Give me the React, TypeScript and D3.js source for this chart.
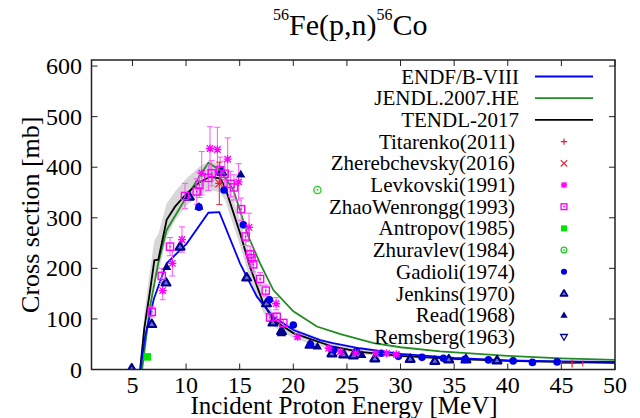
import React from "react";
import * as d3 from "d3";

// ---------- Evaluated curves ----------
const endfE = [5.75, 6.17, 7.0, 8.19, 10.06, 12.08, 13.1, 15.03, 16.6, 18.14, 20, 22.5, 23.7, 26.2, 30, 35, 40, 45, 50];
const endfV = [0, 65, 140, 210, 249, 310, 311, 210, 144, 104, 78, 58, 52, 42, 31, 23, 18, 16, 15];

const jendlE = [5.9, 6.64, 7.4, 8.19, 10.06, 12.08, 13.17, 14.41, 15.81, 16.9, 18.14, 20, 22.2, 24.4, 27.5, 30, 33.7, 40, 45, 50];
const jendlV = [0, 124, 210, 276, 342, 409, 394, 355, 263, 210, 157, 115, 85, 70, 52, 44, 36, 27, 22, 19];

const tendlE = [5.71, 6.1, 6.6, 7.04, 7.41, 8.19, 8.97, 10.06, 11.3, 12.23, 13.17, 13.63, 15.03, 15.96, 17.2, 18.14, 20, 23.7, 26.2, 30, 35, 40, 45, 50];
const tendlV = [0, 81, 150, 216, 217, 296, 322, 348, 371, 381, 378, 361, 270, 203, 131, 98, 72, 45, 35, 27, 21, 17, 15, 13];
const tendlHi = [0, 110, 190, 255, 268, 328, 352, 378, 402, 412, 405, 390, 295, 225, 150, 112, 82, 52, 40, 31, 24, 20, 17, 15];
const tendlLo = [0, 60, 120, 180, 190, 262, 295, 325, 345, 355, 350, 335, 245, 180, 112, 85, 62, 38, 30, 23, 18, 15, 12, 11];

// ---------- Experimental data ----------
const titarenkoE = [13.1, 46];
const titarenkoV = [368, 12];
const titarenkoXErr = [0, 1];

const zherebE = [13.1];
const zherebV = [368];
const zherebErr = [42];

const levE = [7.82, 8.72, 9.62, 11.46, 12.23, 12.92, 13.88, 14.9, 15.87, 18.4, 20.4, 23.3, 24.4, 25.8, 27.7, 28.7, 29.6];
const levV = [156, 210, 257, 388, 437, 435, 416, 371, 281, 130, 65, 42, 35, 33, 32, 32, 30];
const levErr = [18, 25, 25, 43, 43, 44, 42, 36, 28, 12, 6, 4, 3, 3, 3, 3, 3];

const zhaoE = [6.8, 7.73, 8.5, 9.9, 10.99, 11.24, 12.08, 12.39, 13.17, 13.6, 14.16, 14.47, 15.13, 15.56, 15.97, 16.1, 16.27, 16.9, 17.43, 17.83, 18.45, 19.07];
const zhaoV = [114, 185, 243, 343, 352, 365, 379, 388, 394, 387, 367, 360, 317, 263, 228, 220, 208, 179, 156, 103, 104, 92];
const zhaoErr = [10, 15, 18, 25, 25, 25, 25, 25, 26, 25, 25, 25, 22, 18, 16, 15, 15, 13, 11, 8, 8, 7];

const antropovE = [6.38];
const antropovV = [25];

const zhuravlevE = [22.25];
const zhuravlevV = [355];

const gadioliE = [11.2, 13.54, 15.34, 17.77, 20, 21.6, 23.8, 25.9, 28.2, 29.8, 32, 34, 36, 38.2, 40.5, 42.3, 44.6];
const gadioliV = [321, 355, 286, 138, 88, 50, 39, 36, 32, 26, 24, 22, 20, 19, 17, 14, 15];

const jenkinsE = [4.93, 6.8, 8.13, 9.44, 10.3, 13.32, 15.65, 17.5, 18.1, 18.9, 21.56, 23.6, 24.7, 25.6, 27.6, 30.9, 33.2, 34.5, 36.1, 39];
const jenkinsV = [2, 90, 172, 243, 342, 391, 182, 131, 93, 76, 49, 32, 30, 28, 22, 21, 17, 20, 20, 18];

const readE = [8.19, 11.2, 15.1, 18.9, 22.25, 26.4];
const readV = [203, 322, 386, 72, 46, 29];

const remsbergE: number[] = [];
const remsbergV: number[] = [];

// ---------- Axis / label texts ----------
const xTicks = [5, 10, 15, 20, 25, 30, 35, 40, 45, 50];
const yTicks = [0, 100, 200, 300, 400, 500, 600];
const xLabel = "Incident Proton Energy [MeV]";
const yLabel = "Cross section [mb]";
const legendLines = ["ENDF/B-VIII", "JENDL.2007.HE", "TENDL-2017"];
const legendPoints = [
  "Titarenko(2011)", "Zherebchevsky(2016)", "Levkovski(1991)", "ZhaoWenrongg(1993)",
  "Antropov(1985)", "Zhuravlev(1984)", "Gadioli(1974)", "Jenkins(1970)", "Read(1968)", "Remsberg(1963)",
];

const W = 640, H = 418;
const L = 91.5, R = 615, T = 60, B = 369.5;
const FONT = '"Liberation Serif"';

const C_BLUE = "#0000ff";
const C_GREEN = "#228b22";
const C_RED = "#e0203a";
const C_MAG = "#ff00ff";
const C_MAG_ERR = "#ff55ff";
const C_NAVY = "#00008b";
const C_GAD = "#0000e6";
const C_ANT = "#00e600";
const C_ZHU = "#22cc22";

type MK = "plus" | "cross" | "star" | "sqdot" | "fsq" | "cdot" | "fcirc" | "otri" | "ftri" | "itri";

function Marker({ kind, x, y, color, k = 1 }: { kind: MK; x: number; y: number; color: string; k?: number }) {
  const s = 4 * k;
  switch (kind) {
    case "plus":
      return <path d={`M${x - s},${y}H${x + s}M${x},${y - s}V${y + s}`} stroke={color} strokeWidth={1.2} fill="none" />;
    case "cross":
      return <path d={`M${x - s},${y - s}L${x + s},${y + s}M${x - s},${y + s}L${x + s},${y - s}`} stroke={color} strokeWidth={1.2} fill="none" />;
    case "star": {
      const d = 3.2 * k;
      return <path d={`M${x - s},${y}H${x + s}M${x},${y - s}V${y + s}M${x - d},${y - d}L${x + d},${y + d}M${x - d},${y + d}L${x + d},${y - d}`} stroke={color} strokeWidth={1.3} fill="none" />;
    }
    case "sqdot":
      return (
        <g>
          <rect x={x - 3.6 * k} y={y - 3.6 * k} width={7.2 * k} height={7.2 * k} stroke={color} strokeWidth={1.4} fill="none" />
          <rect x={x - 0.8} y={y - 0.8} width={1.6} height={1.6} fill={color} />
        </g>
      );
    case "fsq":
      return <rect x={x - 3.8 * k} y={y - 3.8 * k} width={7.6 * k} height={7.6 * k} fill={color} />;
    case "cdot":
      return (
        <g>
          <circle cx={x} cy={y} r={3.6 * k} stroke={color} strokeWidth={1.3} fill="none" />
          <circle cx={x} cy={y} r={0.9} fill={color} />
        </g>
      );
    case "fcirc":
      return <circle cx={x} cy={y} r={3.8 * k} fill={color} />;
    case "otri":
      return (
        <g>
          <path d={`M${x},${y - 4.4 * k}L${x + 4.4 * k},${y + 3 * k}L${x - 4.4 * k},${y + 3 * k}Z`} stroke={color} strokeWidth={2.2 * k} strokeLinejoin="round" fill="#6a6ad0" />
        </g>
      );
    case "ftri":
      return <path d={`M${x},${y - 4.6 * k}L${x + 4.6 * k},${y + 3.2 * k}L${x - 4.6 * k},${y + 3.2 * k}Z`} fill={color} />;
    case "itri":
      return <path d={`M${x},${y + 4.2 * k}L${x + 4.2 * k},${y - 3 * k}L${x - 4.2 * k},${y - 3 * k}Z`} stroke={color} strokeWidth={1.3} fill="none" />;
  }
  return null;
}

export default function App() {
  const x = d3.scaleLinear().domain([1.18, 50]).range([L, R]);
  const y = d3.scaleLinear().domain([0, 612]).range([B, T]);

  const line = d3
    .line<[number, number]>()
    .x((d) => x(d[0]))
    .y((d) => y(d[1]));
  const zip = (a: number[], b: number[]) => a.map((e, i) => [e, b[i]] as [number, number]);

  const area = d3
    .area<number>()
    .x((i) => x(tendlE[i]))
    .y0((i) => y(tendlLo[i]))
    .y1((i) => y(tendlHi[i]));

  const errBars = (E: number[], V: number[], err: number[] | null, color: string, xerr?: number[]) =>
    E.map((e, i) => {
      const px = x(e);
      const parts: string[] = [];
      if (err && err[i] > 0) {
        const y0 = y(V[i] - err[i]);
        const y1 = y(V[i] + err[i]);
        parts.push(`M${px},${y0}V${y1}M${px - 3},${y0}H${px + 3}M${px - 3},${y1}H${px + 3}`);
      }
      if (xerr && xerr[i] > 0) {
        const x0 = x(e - xerr[i]);
        const x1 = x(e + xerr[i]);
        const py = y(V[i]);
        parts.push(`M${x0},${py}H${x1}M${x0},${py - 3}V${py + 3}M${x1},${py - 3}V${py + 3}`);
      }
      return <path key={i} d={parts.join("") || "M0,0"} stroke={color} strokeWidth={1} fill="none" />;
    });

  const pts = (E: number[], V: number[], kind: MK, color: string) =>
    E.map((e, i) => <Marker key={i} kind={kind} x={x(e)} y={y(V[i])} color={color} />);

  const pointSeries: { kind: MK; color: string }[] = [
    { kind: "plus", color: C_RED },
    { kind: "cross", color: C_RED },
    { kind: "star", color: C_MAG },
    { kind: "sqdot", color: C_MAG },
    { kind: "fsq", color: C_ANT },
    { kind: "cdot", color: C_ZHU },
    { kind: "fcirc", color: C_GAD },
    { kind: "otri", color: C_NAVY },
    { kind: "ftri", color: C_NAVY },
    { kind: "itri", color: C_NAVY },
  ];
  const lineColors = [C_BLUE, C_GREEN, "#000000"];
  const legY0 = 76.5;
  const legDy = 21.7;
  const legTextX = 519;

  return (
    <svg width={W} height={H} style={{ position: "absolute", left: 0, top: 0, background: "#fff", fontFamily: FONT }}>
      <defs>
        <clipPath id="plotclip">
          <rect x={L} y={T} width={R - L} height={B - T} />
        </clipPath>
      </defs>

      {/* title */}
      <text x={273} y={35} fontSize={30} fill="#000" style={{ fontFamily: FONT }}>
        <tspan fontSize={16} dy={-15}>56</tspan>
        <tspan dy={15}>Fe(p,n)</tspan>
        <tspan fontSize={16} dy={-15}>56</tspan>
        <tspan dy={15}>Co</tspan>
      </text>

      {/* ticks */}
      {xTicks.map((t) => (
        <g key={"xt" + t}>
          <line x1={x(t)} x2={x(t)} y1={B} y2={B - 6} stroke="#222" strokeWidth={1} />
          <line x1={x(t)} x2={x(t)} y1={T} y2={T + 6} stroke="#222" strokeWidth={1} />
          <text x={x(t)} y={393} fontSize={24} textAnchor="middle" fill="#000" style={{ fontFamily: FONT }}>{t}</text>
        </g>
      ))}
      {yTicks.map((t) => (
        <g key={"yt" + t}>
          <line x1={L} x2={L + 6} y1={y(t)} y2={y(t)} stroke="#222" strokeWidth={1} />
          <line x1={R} x2={R - 6} y1={y(t)} y2={y(t)} stroke="#222" strokeWidth={1} />
          <text x={82} y={y(t) + 8} fontSize={24} textAnchor="end" fill="#000" style={{ fontFamily: FONT }}>{t}</text>
        </g>
      ))}

      {/* axis labels */}
      <text x={344} y={414} fontSize={25} textAnchor="middle" fill="#000" style={{ fontFamily: FONT }}>{xLabel}</text>
      <text transform={`translate(39,${(T + B) / 2}) rotate(-90)`} fontSize={26} textAnchor="middle" fill="#000" style={{ fontFamily: FONT }}>{yLabel}</text>

      <g clipPath="url(#plotclip)">
        {/* TENDL uncertainty band */}
        <path d={area(d3.range(tendlE.length)) || ""} fill="#d3d3d3" opacity={0.9} />
        {/* curves */}
        <path d={line(zip(jendlE, jendlV)) || ""} stroke={C_GREEN} strokeWidth={1.8} fill="none" />
        <path d={line(zip(tendlE, tendlV)) || ""} stroke="#000" strokeWidth={1.8} fill="none" />
        <path d={line(zip(endfE, endfV)) || ""} stroke={C_BLUE} strokeWidth={1.8} fill="none" />

        {/* error bars */}
        {errBars(levE, levV, levErr, C_MAG_ERR)}
        {errBars(zhaoE, zhaoV, zhaoErr, C_MAG_ERR)}
        {errBars(zherebE, zherebV, zherebErr, C_RED)}
        {errBars(titarenkoE, titarenkoV, null, C_RED, titarenkoXErr)}

        {/* points */}
        {pts(jenkinsE, jenkinsV, "otri", C_NAVY)}
        {pts(readE, readV, "ftri", C_NAVY)}
        {pts(remsbergE, remsbergV, "itri", C_NAVY)}
        {pts(gadioliE, gadioliV, "fcirc", C_GAD)}
        {pts(zhaoE, zhaoV, "sqdot", C_MAG)}
        {pts(levE, levV, "star", C_MAG)}
        {pts(antropovE, antropovV, "fsq", C_ANT)}
        {pts(zhuravlevE, zhuravlevV, "cdot", C_ZHU)}
        {pts(zherebE, zherebV, "cross", C_RED)}
        {pts(titarenkoE, titarenkoV, "plus", C_RED)}
      </g>

      {/* legend */}
      {legendLines.map((name, i) => (
        <g key={name}>
          <text x={legTextX} y={legY0 + i * legDy + 7} fontSize={21} textAnchor="end" fill="#000" style={{ fontFamily: FONT }}>{name}</text>
          <line x1={535} x2={593} y1={legY0 + i * legDy} y2={legY0 + i * legDy} stroke={lineColors[i]} strokeWidth={1.8} />
        </g>
      ))}
      {legendPoints.map((name, j) => {
        const i = j + legendLines.length;
        const ly = legY0 + i * legDy;
        return (
          <g key={name}>
            <text x={legTextX - 4} y={ly + 7} fontSize={21} textAnchor="end" fill="#000" style={{ fontFamily: FONT }}>{name}</text>
            <Marker kind={pointSeries[j].kind} x={564} y={ly} color={pointSeries[j].color} k={0.8} />
          </g>
        );
      })}

      {/* frame */}
      <rect x={L} y={T} width={R - L} height={B - T} fill="none" stroke="#222" strokeWidth={1.5} />
    </svg>
  );
}
